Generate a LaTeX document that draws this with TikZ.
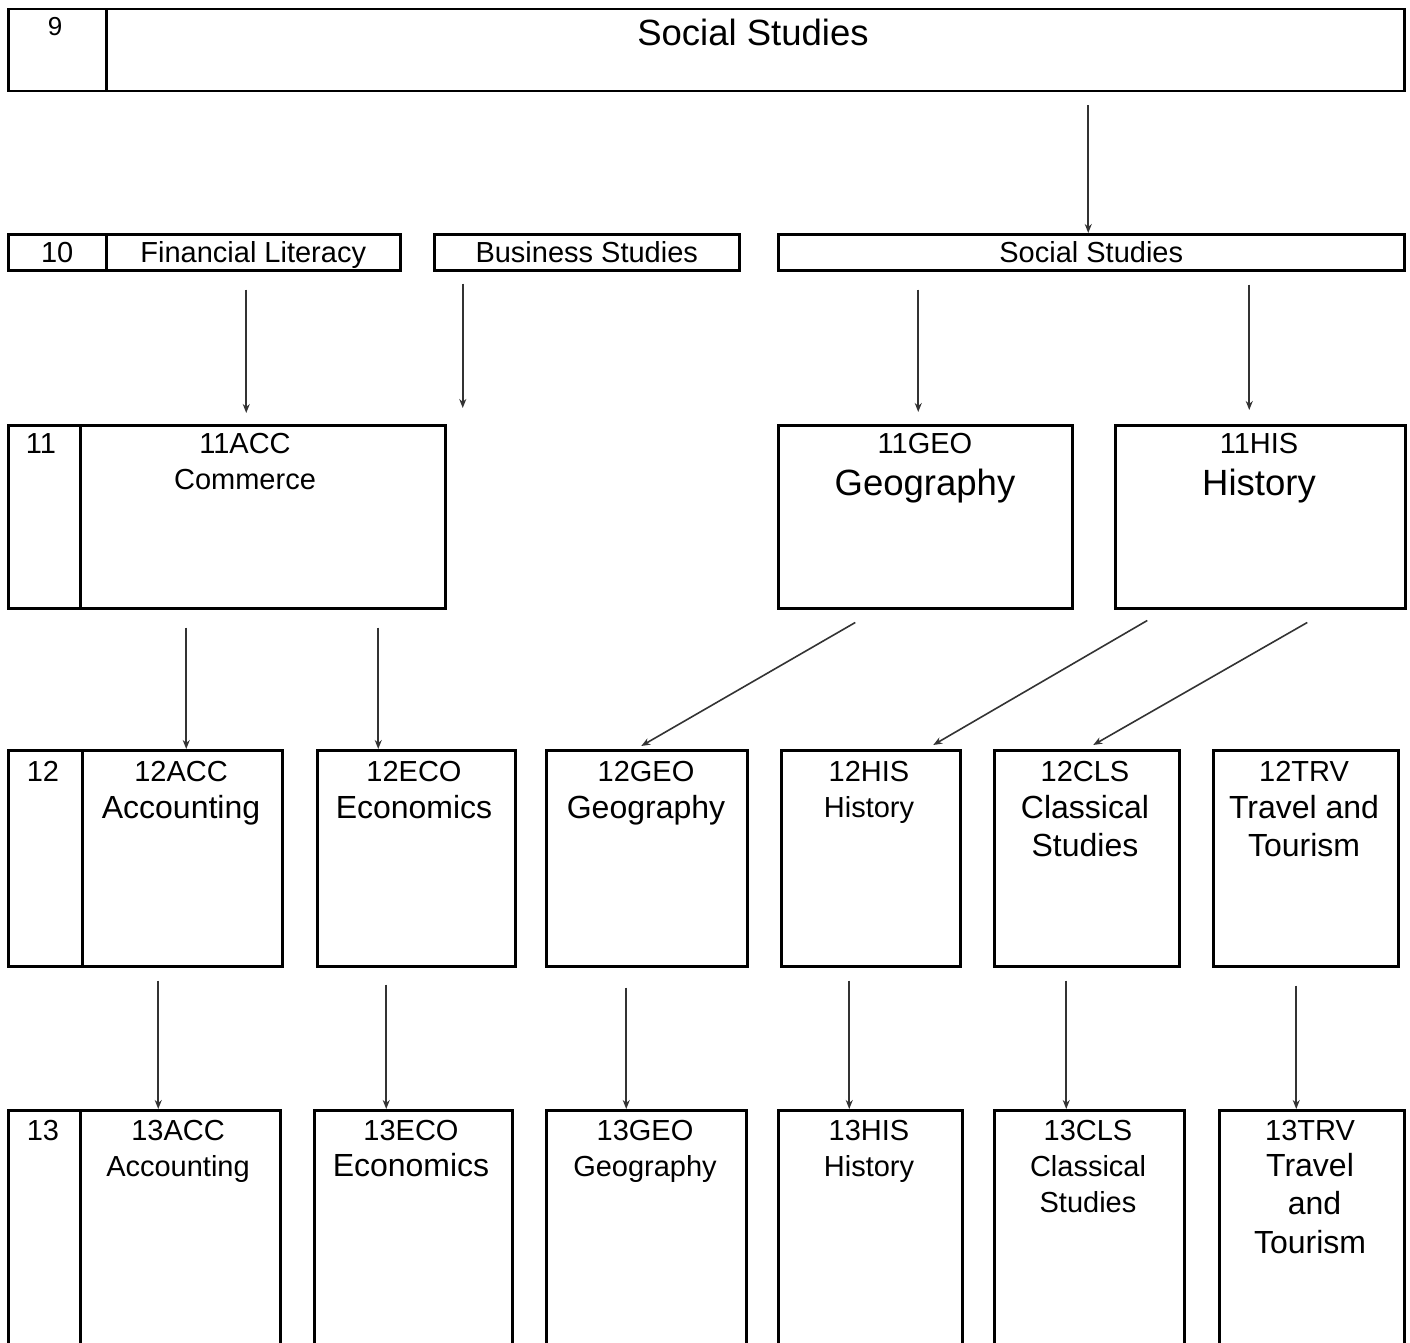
\documentclass[tikz,border=0pt]{standalone}
\usepackage{fontspec}
\setmainfont{Liberation Sans}
\usetikzlibrary{arrows.meta,calc,positioning}

\newcommand{\sml}{\fontsize{29}{36}\selectfont}
\newcommand{\mdm}{\fontsize{32}{39}\selectfont}
\newcommand{\lrg}{\fontsize{36.5}{42}\selectfont}

\tikzset{
  box/.style={draw, line width=2.5pt, inner sep=0pt, anchor=north west},
  row/.style={box, font=\sml, text height=20pt, text depth=0pt, minimum height=36pt},
  lbl/.style={anchor=north, inner sep=0pt, align=center, font=\sml},
  arr/.style={draw=black!80, line width=1.6pt, -{Stealth[length=9pt,width=7pt]}}
}

\begin{document}
\begin{tikzpicture}[x=1pt, y=-1pt]
\useasboundingbox (0,0) rectangle (1410,1343);
\clip (0,0) rectangle (1410,1343);

% year 9
\node[box, minimum width=98pt, minimum height=82pt] (year9) at (7,8) {};
\node[box, minimum width=1298pt, minimum height=82pt] (ss9) at (105,8) {};
\node[lbl, font=\fontsize{26}{30}\selectfont] (t9) at (55,17) {9};
\node[lbl, font=\lrg] (tss9) at (753,19) {Social Studies};

% year 10
\node[row, minimum width=98pt] (year10) at (7,233) {10};
\node[row, minimum width=294pt] (fin10) at (105,233) {Financial Literacy};
\node[row, minimum width=305pt] (bus10) at (433,233) {Business Studies};
\node[row, minimum width=626pt] (ss10) at (777,233) {Social Studies};

% year 11
\node[box, minimum width=72pt, minimum height=183pt] (year11) at (7,424) {};
\node[box, minimum width=365pt, minimum height=183pt] (acc11) at (79,424) {};
\node[box, minimum width=294pt, minimum height=183pt] (geo11) at (777,424) {};
\node[box, minimum width=290pt, minimum height=183pt] (his11) at (1114,424) {};
\node[lbl] (t11) at (41,433) {11};
\node[lbl] (tacc11) at (245,433) {11ACC\\Commerce};
\node[lbl] (tgeo11) at (925,433) {11GEO\\[6pt]\lrg Geography};
\node[lbl] (this11) at (1259,433) {11HIS\\[6pt]\lrg History};

% year 12
\node[box, minimum width=74pt, minimum height=216pt] (year12) at (7,749) {};
\node[box, minimum width=200pt, minimum height=216pt] (acc12) at (81,749) {};
\node[box, minimum width=198pt, minimum height=216pt] (eco12) at (316,749) {};
\node[box, minimum width=201pt, minimum height=216pt] (geo12) at (545,749) {};
\node[box, minimum width=179pt, minimum height=216pt] (his12) at (780,749) {};
\node[box, minimum width=185pt, minimum height=216pt] (cls12) at (993,749) {};
\node[box, minimum width=185pt, minimum height=216pt] (trv12) at (1212,749) {};
\node[lbl] (t12) at (43,761) {12};
\node[lbl] (tacc12) at (181,761) {12ACC\\[1pt]\mdm Accounting};
\node[lbl] (teco12) at (414,761) {12ECO\\[1pt]\mdm Economics};
\node[lbl] (tgeo12) at (646,761) {12GEO\\[1pt]\mdm Geography};
\node[lbl] (this12) at (869,761) {12HIS\\History};
\node[lbl] (tcls12) at (1085,761) {12CLS\\[1pt]\mdm Classical\\[2pt]\mdm Studies};
\node[lbl] (ttrv12) at (1304,761) {12TRV\\[1pt]\mdm Travel and\\[2pt]\mdm Tourism};

% year 13
\node[box, minimum width=72pt, minimum height=270pt] (year13) at (7,1109) {};
\node[box, minimum width=200pt, minimum height=270pt] (acc13) at (79,1109) {};
\node[box, minimum width=198pt, minimum height=270pt] (eco13) at (313,1109) {};
\node[box, minimum width=200pt, minimum height=270pt] (geo13) at (545,1109) {};
\node[box, minimum width=184pt, minimum height=270pt] (his13) at (777,1109) {};
\node[box, minimum width=190pt, minimum height=270pt] (cls13) at (993,1109) {};
\node[box, minimum width=185pt, minimum height=270pt] (trv13) at (1218,1109) {};
\node[lbl] (t13) at (43,1120) {13};
\node[lbl] (tacc13) at (178,1120) {13ACC\\Accounting};
\node[lbl] (teco13) at (411,1120) {13ECO\\\mdm Economics};
\node[lbl] (tgeo13) at (645,1120) {13GEO\\Geography};
\node[lbl] (this13) at (869,1120) {13HIS\\History};
\node[lbl] (tcls13) at (1088,1120) {13CLS\\Classical\\Studies};
\node[lbl] (ttrv13) at (1310,1120) {13TRV\\\mdm Travel\\[2pt]\mdm \ and\\[3pt]\mdm Tourism};

% 9 -> 10
\draw[arr] ($(ss10.north |- ss9.south)+(-3,13)$) -- ($(ss10.north)+(-3,0)$);

% 10 -> 11
\draw[arr] ($(fin10.south)+(-7,18)$) -- ($(fin10.south |- acc11.north)+(-7,-11)$);
\draw[arr] ($(bus10.south)+(-124,12)$) -- ($(bus10.south |- acc11.north)+(-124,-16)$);
\draw[arr] ($(geo11.north |- ss10.south)+(-7,18)$) -- ($(geo11.north)+(-7,-12)$);
\draw[arr] ($(his11.north |- ss10.south)+(-11,13)$) -- ($(his11.north)+(-11,-14)$);

% 11 -> 12
\draw[arr] ($(acc12.north |- acc11.south)+(4,18)$) -- ($(acc12.north)+(4,0)$);
\draw[arr] ($(eco12.north |- acc11.south)+(-38,18)$) -- ($(eco12.north)+(-38,0)$);
\draw[arr] ($(geo11.south)+(-70,13)$) -- ($(geo12.north)+(-5.5,-3)$);
\draw[arr] ($(his11.south)+(-113,11)$) -- ($(his12.north)+(62.5,-4)$);
\draw[arr] ($(his11.south)+(47,13)$) -- ($(cls12.north)+(6.5,-4)$);

% 12 -> 13
\draw[arr] ($(acc13.north |- acc12.south)+(-22,13)$) -- ($(acc13.north)+(-22,0)$);
\draw[arr] ($(eco13.north |- eco12.south)+(-27,17)$) -- ($(eco13.north)+(-27,0)$);
\draw[arr] ($(geo13.north |- geo12.south)+(-20,20)$) -- ($(geo13.north)+(-20,0)$);
\draw[arr] ($(his13.north |- his12.south)+(-21,13)$) -- ($(his13.north)+(-21,0)$);
\draw[arr] ($(cls13.north |- cls12.south)+(-23,13)$) -- ($(cls13.north)+(-23,0)$);
\draw[arr] ($(trv13.north |- trv12.south)+(-15.5,18)$) -- ($(trv13.north)+(-15.5,0)$);

\end{tikzpicture}
\end{document}
